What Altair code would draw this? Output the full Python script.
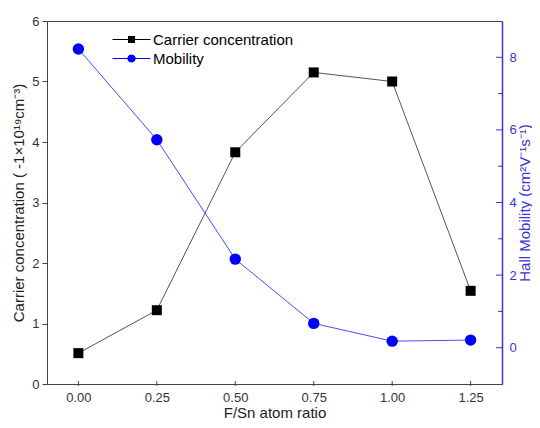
import altair as alt
import pandas as pd

ratio = [0.0, 0.25, 0.50, 0.75, 1.00, 1.25]
carrier = [0.51, 1.22, 3.83, 5.15, 5.00, 1.54]
mobility = [8.23, 5.73, 2.44, 0.67, 0.18, 0.21]
series_names = ["Carrier concentration", "Mobility"]
x_ticks = [0.0, 0.25, 0.50, 0.75, 1.00, 1.25]
left_ticks = [0, 0.5, 1, 1.5, 2, 2.5, 3, 3.5, 4, 4.5, 5, 5.5, 6]
right_major = [0, 2, 4, 6, 8]
right_minor = [1, 3, 5, 7]

W, H = 455, 365
BLUE = "#3535d8"
FONT = "Liberation Sans"

df = pd.DataFrame({"x": ratio, "carrier": carrier, "mobility": mobility})
leg_df = pd.DataFrame({"series": series_names, "x": [-1, -1], "y": [-100, -100]})
xt_df = pd.DataFrame({"x": x_ticks})
rmaj_df = pd.DataFrame({"y": right_major})
rmin_df = pd.DataFrame({"y": right_minor})

xscale = alt.Scale(domain=[-0.1, 1.35], nice=False, zero=False)
x_enc = alt.X("x:Q", scale=xscale, axis=alt.Axis(
    values=x_ticks, format=".2f", title="F/Sn atom ratio", ticks=False,
    labelPadding=7, titlePadding=0, minExtent=21, maxExtent=21, grid=False))

lscale = alt.Scale(domain=[0, 6], nice=False, zero=False)
rscale = alt.Scale(domain=[-1, 9], nice=False, zero=False)

left_axis = alt.Axis(values=left_ticks,
                     labelExpr="datum.value % 1 == 0 ? format(datum.value, 'd') : ''",
                     title="Carrier concentration ( -1×10¹⁹cm⁻³)", tickSize=5,
                     labelPadding=3, titlePadding=6, minExtent=15, maxExtent=15, grid=False)
right_axis = alt.Axis(orient="right", values=right_major, title="Hall Mobility (cm²V⁻¹s⁻¹)",
                      ticks=False, labelPadding=7, titlePadding=1, minExtent=14, maxExtent=14,
                      grid=False,
                      domainColor=BLUE, domainWidth=1.5, labelColor=BLUE, titleColor=BLUE,
                      titleAngle=270, titleBaseline="top")


def hlines(ys, halfw):
    return "".join(f"M{-w:.3f},{y:.2f}H{w:.3f}" for y, w in zip(ys, halfw))


rows = [-0.6, -0.4, -0.2, 0.0, 0.2, 0.4, 0.6]
R = 0.8
sq_path = "M-3.8,0H3.8" + hlines(rows, [0.7] * len(rows))
ci_path = ("M-3.8,0H3.8" + hlines(rows, [max(R * R - y * y, 0) ** 0.5 for y in rows])
           + "M-0.7,0A0.7,0.7,0,1,1,0.7,0A0.7,0.7,0,1,1,-0.7,0Z")

leg_colors = ["black", "#0000ff"]

base = alt.Chart(df)

c_line = base.mark_line(color="#555555", strokeWidth=1).encode(
    x=x_enc, y=alt.Y("carrier:Q", scale=lscale, axis=left_axis))
c_pts = base.mark_square(color="black", size=100, opacity=1).encode(
    x="x:Q", y="carrier:Q")
legend_layer = alt.Chart(leg_df).mark_point(filled=False, clip=True, size=100, opacity=1,
                                             strokeWidth=1).encode(
    x="x:Q", y="y:Q",
    color=alt.Color("series:N", scale=alt.Scale(domain=series_names, range=leg_colors),
                    legend=alt.Legend(title=None, orient="none", legendX=77, legendY=11,
                                      labelFont=FONT, labelFontSize=15, labelColor="black",
                                      labelOffset=14, rowPadding=3, padding=0,
                                      symbolSize=100, symbolStrokeWidth=1, symbolOpacity=1)),
    shape=alt.Shape("series:N", scale=alt.Scale(domain=series_names, range=[sq_path, ci_path]),
                    legend=None),
)
x_inticks = alt.Chart(xt_df).mark_rule(color="#444444", strokeWidth=1).encode(
    x="x:Q", y=alt.value(H - 5), y2=alt.value(H))

left = alt.layer(c_line, c_pts, x_inticks, legend_layer)

m_line = base.mark_line(color="#4a4aff", strokeWidth=1).encode(
    x="x:Q", y=alt.Y("mobility:Q", scale=rscale, axis=right_axis))
m_pts = base.mark_circle(color="#0000ff", size=130, opacity=1).encode(
    x="x:Q", y="mobility:Q")
r_major = alt.Chart(rmaj_df).mark_rule(color=BLUE, strokeWidth=1).encode(
    y="y:Q", x=alt.value(W - 6), x2=alt.value(W))
r_minor = alt.Chart(rmin_df).mark_rule(color=BLUE, strokeWidth=1).encode(
    y="y:Q", x=alt.value(W - 4), x2=alt.value(W))

right = alt.layer(m_line, m_pts, r_major, r_minor)

chart = alt.layer(left, right).resolve_scale(
    y="independent", color="independent", shape="independent"
).properties(
    width=524, height=412,
    autosize=alt.AutoSizeParams(type="fit", contains="padding"),
    padding={"left": 3, "top": 7, "right": 0, "bottom": 0}
).configure_axis(
    labelFont=FONT, titleFont=FONT, labelFontSize=13, titleFontSize=15,
    labelColor="#333333", titleColor="#222222", domainColor="#444444", tickColor="#444444",
    titleFontWeight="normal"
).configure_view(stroke="#444444", strokeWidth=1)

chart.save("out.html", embed_options={"renderer": "svg", "actions": False})
